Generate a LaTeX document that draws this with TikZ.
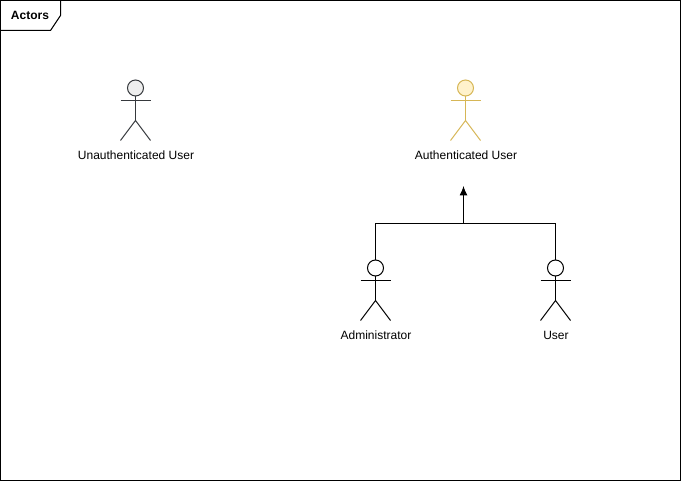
\documentclass[tikz,border=0pt]{standalone}
\usepackage{fontspec}
\setmainfont{Liberation Sans}
\usetikzlibrary{arrows.meta}
\definecolor{goldline}{HTML}{D6B656}
\definecolor{goldfill}{HTML}{FFF2CC}
\definecolor{greyline}{HTML}{36393D}
\definecolor{greyfill}{HTML}{EEEEEE}
\tikzset{
  x=1pt,y=-1pt,
  line/.style={line width=1pt,line cap=butt},
  head/.style={circle,draw,line width=1pt,minimum size=16pt,inner sep=0pt,outer sep=0pt},
  lbl/.style={font=\fontsize{12}{14}\selectfont,text=black,inner sep=0pt,anchor=center},
  conn/.style={line width=1pt,black},
  pic actor/.style={},
  actorlimbs/.pic={
    \draw[line,pic actor] (-15,12.5) -- (15,12.5);
    \draw[line,pic actor] (0,8) -- (0,32.5);
    \draw[line,pic actor] (-15,52.5) -- (0,32.5) -- (15,52.5);
  }
}
\begin{document}
\begin{tikzpicture}
\useasboundingbox (0,0) rectangle (681,481);
% frame
\draw[line,black] (0.5,0.5) rectangle (680.5,480.5);
\node[lbl,font=\fontsize{12}{14}\selectfont\bfseries] (title) at (30,15.5) {Actors};
\draw[line,black] (0.5,30.5) -- (50.5,30.5) -- (60.5,15.5) -- (60.5,0.5);
% actors
\node[head,draw=greyline,fill=greyfill] (unauth) at (135.5,88) {};
\path (unauth.center) pic[pic actor/.style={draw=greyline}] {actorlimbs};
\node[lbl] (unauthlbl) at (136,155) {Unauthenticated User};
\node[head,draw=goldline,fill=goldfill] (auth) at (465.5,88) {};
\path (auth.center) pic[pic actor/.style={draw=goldline}] {actorlimbs};
\node[lbl] (authlbl) at (466,155) {Authenticated User};
\node[head,draw=black,fill=white] (admin) at (375.5,268) {};
\path (admin.center) pic[pic actor/.style={draw=black}] {actorlimbs};
\node[lbl] (adminlbl) at (376,335) {Administrator};
\node[head,draw=black,fill=white] (user) at (555.5,268) {};
\path (user.center) pic[pic actor/.style={draw=black}] {actorlimbs};
\node[lbl] (userlbl) at (556,335) {User};
% connectors
\coordinate (target) at (463.5,186);
\coordinate (join) at (463.5,223.5);
\draw[conn] (admin.north) -- (375.5,223.5) -- (join);
\draw[conn] (user.north) -- (555.5,223.5) -- (join);
\draw[conn,-{Latex[length=9.5pt,width=8pt]}] (join) -- (target);
\end{tikzpicture}
\end{document}
